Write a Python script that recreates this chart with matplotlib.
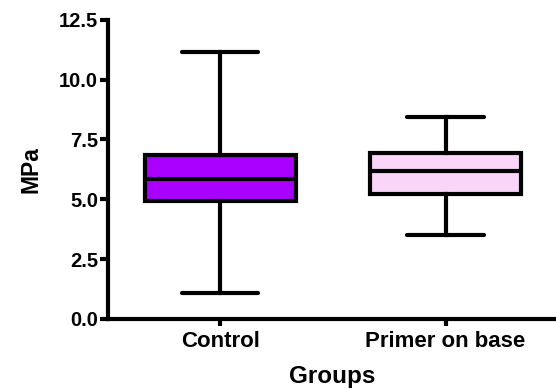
import matplotlib
matplotlib.use("Agg")
import matplotlib.pyplot as plt

plt.rcParams['font.family'] = ['Liberation Sans', 'DejaVu Sans']
plt.rcParams['font.weight'] = 'bold'

groups = ['Control', 'Primer on base']
whisker_low = [1.08, 3.5]
q1 = [4.95, 5.23]
median = [5.85, 6.18]
q3 = [6.86, 6.94]
whisker_high = [11.15, 8.43]
colors = ['#AA00FF', '#F9D5F9']

stats = []
for i in range(len(groups)):
    stats.append(dict(label=groups[i], whislo=whisker_low[i], q1=q1[i], med=median[i],
                      q3=q3[i], whishi=whisker_high[i], fliers=[]))

fig = plt.figure(figsize=(5.56, 3.89), dpi=100)
ax = fig.add_axes([0.194, 0.18, 0.806, 0.769])

lw = 3.0
bp = ax.bxp(stats, positions=[1, 2], widths=0.67, patch_artist=True, showfliers=False,
            boxprops=dict(linewidth=lw, edgecolor='black'),
            medianprops=dict(color='black', linewidth=lw),
            whiskerprops=dict(color='black', linewidth=lw),
            capprops=dict(color='black', linewidth=lw, solid_capstyle='round'),
            capwidths=0.34)
for patch, c in zip(bp['boxes'], colors):
    patch.set_facecolor(c)

ax.set_xlim(0.502, 2.49)
ax.set_ylim(0, 12.5)
ax.set_yticks([0, 2.5, 5.0, 7.5, 10.0, 12.5])
ax.set_yticklabels(['0.0', '2.5', '5.0', '7.5', '10.0', '12.5'])
ax.spines['top'].set_visible(False)
ax.spines['right'].set_visible(False)
ax.spines['left'].set_linewidth(lw)
ax.spines['bottom'].set_linewidth(lw)
ax.tick_params(axis='y', length=6, width=lw, labelsize=14.5, pad=1)
ax.tick_params(axis='x', length=5, width=lw, labelsize=16, pad=4)
ax.set_ylabel('MPa', fontsize=16.5, fontweight='bold', labelpad=12)
ax.set_xlabel('Groups', fontsize=17.5, fontweight='bold', labelpad=9)

fig.savefig('out.png', dpi=100)
